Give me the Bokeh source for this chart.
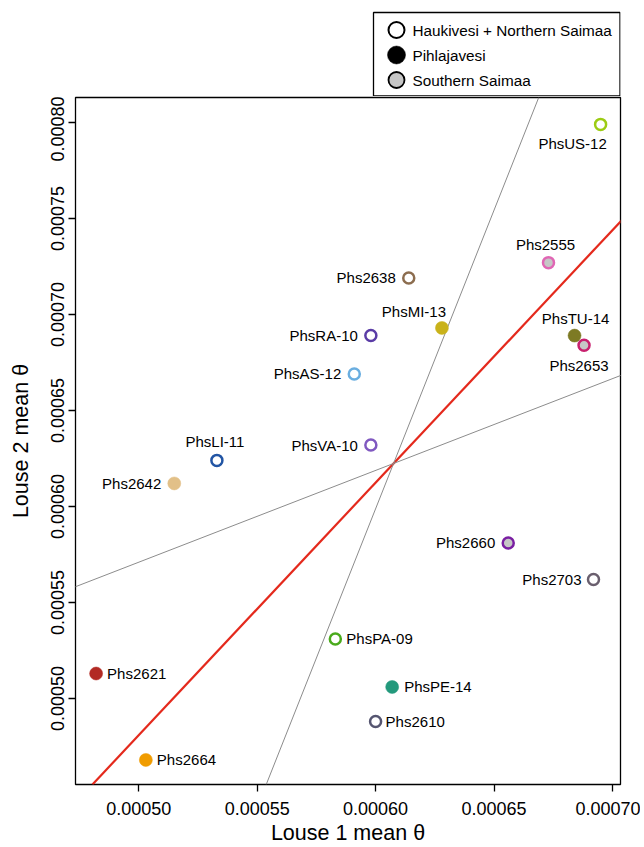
from bokeh.plotting import figure
from bokeh.models import Range1d, FixedTicker, PrintfTickFormatter, Slope, ColumnDataSource
from bokeh.layouts import column
from bokeh.core.properties import value
from bokeh.embed import file_html
from bokeh.resources import INLINE

# ---------------- data ----------------
names = ["PhsUS-12", "Phs2555", "Phs2638", "PhsMI-13", "PhsTU-14", "Phs2653",
         "PhsRA-10", "PhsAS-12", "PhsVA-10", "PhsLI-11", "Phs2642", "Phs2660",
         "Phs2703", "PhsPA-09", "Phs2621", "PhsPE-14", "Phs2610", "Phs2664"]
louse1 = [0.000695, 0.000673, 0.000614, 0.000628, 0.000684, 0.000688,
          0.000598, 0.000591, 0.000598, 0.000533, 0.000515, 0.000656,
          0.000692, 0.000583, 0.000482, 0.000607, 0.000600, 0.000503]
louse2 = [0.000799, 0.000727, 0.000719, 0.000693, 0.000689, 0.000684,
          0.000689, 0.000669, 0.000632, 0.000624, 0.000612, 0.000581,
          0.000562, 0.000531, 0.000513, 0.000506, 0.000488, 0.000468]
region = ["Haukivesi + Northern Saimaa", "Southern Saimaa", "Haukivesi + Northern Saimaa",
          "Pihlajavesi", "Pihlajavesi", "Southern Saimaa",
          "Haukivesi + Northern Saimaa", "Haukivesi + Northern Saimaa", "Haukivesi + Northern Saimaa",
          "Haukivesi + Northern Saimaa", "Pihlajavesi", "Southern Saimaa",
          "Haukivesi + Northern Saimaa", "Haukivesi + Northern Saimaa", "Pihlajavesi",
          "Pihlajavesi", "Haukivesi + Northern Saimaa", "Pihlajavesi"]
colors = ["#9ccc14", "#e066b4", "#8c6d4f", "#c9b21a", "#7d7a24", "#c8206e",
          "#5a3ca6", "#6aaee0", "#8059c0", "#2255a4", "#e2c088", "#7a1fa2",
          "#6a5f6e", "#4aaa1c", "#b22a24", "#23997c", "#555570", "#f09c00"]
regions = ["Haukivesi + Northern Saimaa", "Pihlajavesi", "Southern Saimaa"]

# fitted lines (slope, intercept)
line_slopes = [1.315, 3.11, 0.478]
line_intercepts = [-0.0001766, -0.0012672, 0.00033197]

x_ticks = [0.00050, 0.00055, 0.00060, 0.00065, 0.00070]
y_ticks = [0.00050, 0.00055, 0.00060, 0.00065, 0.00070, 0.00075, 0.00080]

# ---------------- styles ----------------
FONT = "Liberation Sans"
GRAY_FILL = "#c6c6c6"
# label placement: (dx px, dy px (down +), align)
label_pos = {
    "PhsUS-12": (-28, 19, "center"), "Phs2555": (-3, -18, "center"),
    "Phs2638": (-13, 0, "right"), "PhsMI-13": (-28, -16, "center"),
    "PhsTU-14": (1, -17, "center"), "Phs2653": (-5, 20, "center"),
    "PhsRA-10": (-13, 0, "right"), "PhsAS-12": (-13, 0, "right"),
    "PhsVA-10": (-13, 0, "right"), "PhsLI-11": (-2, -19, "center"),
    "Phs2642": (-13, 0, "right"), "Phs2660": (-13, 0, "right"),
    "Phs2703": (-12, 0, "right"), "PhsPA-09": (11, 0, "left"),
    "Phs2621": (11, 0, "left"), "PhsPE-14": (12, 0, "left"),
    "Phs2610": (10, 0, "left"), "Phs2664": (11, 0, "left"),
}
FRAME_W, FRAME_H = 545, 687
BL, BR = 75, 20  # left/right borders shared by both figures

# ---------------- main figure ----------------
p = figure(frame_width=FRAME_W, frame_height=FRAME_H, output_backend="svg", toolbar_location=None,
           x_range=Range1d(0.0004733, 0.0007034), y_range=Range1d(0.0004552, 0.000813),
           min_border_left=BL, min_border_right=BR, min_border_top=1, min_border_bottom=10)
p.grid.visible = False
p.background_fill_color = "white"
p.border_fill_color = "white"
p.outline_line_color = "black"
p.outline_line_width = 1.3

for ax, ticks in ((p.xaxis, x_ticks), (p.yaxis, y_ticks)):
    ax.ticker = FixedTicker(ticks=ticks)
    ax.formatter = PrintfTickFormatter(format="%.5f")
    ax.axis_line_color = None
    ax.major_tick_out = 7
    ax.major_tick_in = 0
    ax.minor_tick_out = 0
    ax.minor_tick_in = 0
    ax.major_tick_line_color = "black"
    ax.major_tick_line_width = 1.3
    ax.major_label_text_font = FONT
    ax.major_label_text_font_size = "18px"
    ax.major_label_text_color = "black"
    ax.axis_label_text_font = FONT
    ax.axis_label_text_font_size = "21.5px"
    ax.axis_label_text_font_style = "normal"
    ax.axis_label_text_color = "black"

p.xaxis.axis_label = "Louse 1 mean θ"
p.yaxis.axis_label = "Louse 2 mean θ"
p.yaxis.major_label_orientation = "vertical"
p.xaxis.major_label_standoff = 10
p.yaxis.major_label_standoff = 4
p.xaxis.axis_label_standoff = 3
p.yaxis.axis_label_standoff = 16

line_colors = ["#e4291c", "#8c8c8c", "#8c8c8c"]
line_widths = [2.2, 1.0, 1.0]
for s, b, c, w in zip(line_slopes, line_intercepts, line_colors, line_widths):
    p.add_layout(Slope(gradient=s, y_intercept=b, line_color=c, line_width=w, level="underlay"))

def subset(cond):
    idx = [i for i in range(len(names)) if cond(i)]
    return ColumnDataSource(dict(
        x=[louse1[i] for i in idx], y=[louse2[i] for i in idx],
        name=[names[i] for i in idx], color=[colors[i] for i in idx],
        dx=[label_pos[names[i]][0] for i in idx], dy=[label_pos[names[i]][1] for i in idx]))

src_open = subset(lambda i: region[i] == regions[0])
src_fill = subset(lambda i: region[i] == regions[1])
src_gray = subset(lambda i: region[i] == regions[2])

p.scatter("x", "y", source=src_open, size=11, fill_color="white", line_color="color", line_width=2.5)
p.scatter("x", "y", source=src_fill, size=13, fill_color="color", line_color="color", line_width=0.5)
p.scatter("x", "y", source=src_gray, size=11, fill_color=GRAY_FILL, line_color="color", line_width=2.5)

for align in ("left", "right", "center"):
    src = subset(lambda i, a=align: label_pos[names[i]][2] == a)
    p.text("x", "y", text="name", source=src, x_offset="dx", y_offset="dy",
           text_align=align, text_baseline="middle", text_font=value(FONT),
           text_font_size="15px", text_color="black")

# ---------------- legend figure (frame aligned with main, units = px) ----------------
LH = 96
lg = figure(frame_width=FRAME_W, frame_height=LH, output_backend="svg", toolbar_location=None,
            x_range=Range1d(0, FRAME_W), y_range=Range1d(0, LH),
            min_border_left=BL, min_border_right=BR, min_border_top=0, min_border_bottom=0)
lg.axis.visible = False
lg.grid.visible = False
lg.outline_line_color = None
lg.background_fill_color = "white"
box_left, box_right, box_bottom, box_top = 298, FRAME_W - 0.5, 0.5, LH - 12
lg.quad(left=[box_left], right=[box_right], bottom=[box_bottom], top=[box_top],
        fill_color="white", line_color="black", line_width=1.3)
leg_y = [box_top - 17.5, box_top - 42.5, box_top - 67.5]
mx = box_left + 23
lg.scatter([mx], [leg_y[0]], size=16, fill_color="white", line_color="black", line_width=2)
lg.scatter([mx], [leg_y[1]], size=18, fill_color="black", line_color="black", line_width=0.5)
lg.scatter([mx], [leg_y[2]], size=16, fill_color=GRAY_FILL, line_color="black", line_width=1.8)
lg.text([mx + 16] * 3, leg_y, text=regions, text_baseline="middle", text_align="left",
        text_font=value(FONT), text_font_size="15.3px", text_color="black")

layout = column(lg, p, spacing=0)
open("out.html", "w").write(file_html(layout, INLINE))
